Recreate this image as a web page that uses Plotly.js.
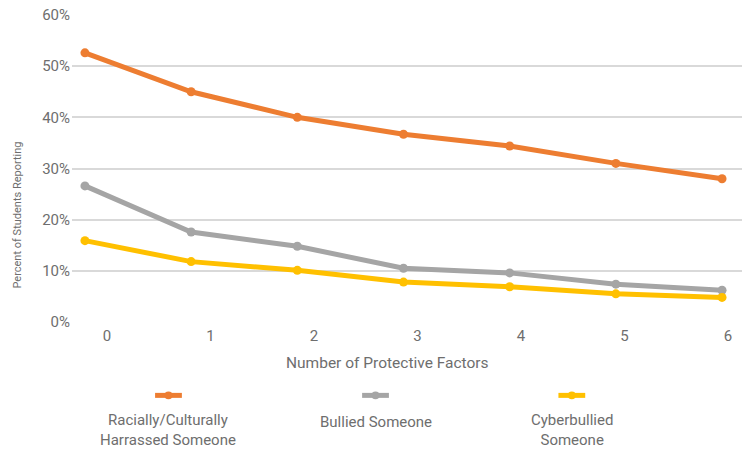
<!DOCTYPE html>
<html>
<head>
<meta charset="utf-8">
<script src="https://cdn.plot.ly/plotly-3.0.1.min.js"></script>
<style>html,body{margin:0;padding:0;background:#fff;}#chart{width:749px;height:450px;}</style>
</head>
<body>
<div id="chart"></div>
<script>
// ---- data ----
var factors = [0, 1, 2, 3, 4, 5, 6];
var tickLabels = ["0", "1", "2", "3", "4", "5", "6"];
var seriesNames = ["Racially/Culturally<br>Harrassed Someone", "Bullied Someone", "Cyberbullied<br>Someone"];
var racial = [52.6, 45.0, 40.0, 36.7, 34.4, 31.0, 28.0];
var bullied = [26.6, 17.6, 14.8, 10.5, 9.6, 7.4, 6.2];
var cyber = [15.9, 11.8, 10.1, 7.8, 6.9, 5.5, 4.8];
var yTickVals = [0, 10, 20, 30, 40, 50, 60];
var yTickText = ["0%", "10%", "20%", "30%", "40%", "50%", "60%"];

var colors = ["#ED7D31", "#A5A5A5", "#FFC000"];
var values = [racial, bullied, cyber];

var traces = values.map(function (v, i) {
  return {
    x: factors, y: v, type: "scatter", mode: "lines+markers",
    line: {color: colors[i], width: 5},
    marker: {color: colors[i], size: 9},
    name: seriesNames[i], showlegend: false, hoverinfo: "x+y"
  };
});

// tick label positions (labels drift slightly right of the points in the reference)
var tickPos = tickLabels.map(function (t, i) { return 0.207 + 0.975 * i; });

var font = "Roboto, 'DejaVu Sans', sans-serif";
var textColor = "#6e6e6e";

// legend built from shapes + annotations (symbol above text)
var legX = [0.144, 0.453, 0.746];
var legY = -0.239;
var shapes = [];
var annotations = [];
seriesNames.forEach(function (n, i) {
  shapes.push({type: "line", xref: "paper", yref: "paper",
    x0: legX[i] - 0.02, x1: legX[i] + 0.02, y0: legY, y1: legY,
    line: {color: colors[i], width: 5}});
  shapes.push({type: "circle", xref: "paper", yref: "paper",
    x0: legX[i] - 0.006, x1: legX[i] + 0.006, y0: legY - 0.013, y1: legY + 0.013,
    fillcolor: colors[i], line: {width: 0}});
  var twoLine = n.indexOf("<br>") >= 0;
  annotations.push({xref: "paper", yref: "paper", x: legX[i], y: twoLine ? -0.352 : -0.326,
    text: n, showarrow: false, xanchor: "center", yanchor: "middle",
    font: {family: font, size: 15, color: textColor}});
});
annotations.push({xref: "paper", yref: "paper", x: 0.4716, y: -0.135,
  text: "Number of Protective Factors", showarrow: false, xanchor: "center", yanchor: "middle",
  font: {family: font, size: 15.5, color: textColor}});
annotations.push({xref: "paper", yref: "paper", x: -0.0806, y: 0.35,
  text: "Percent of Students Reporting", showarrow: false, textangle: -90,
  xanchor: "center", yanchor: "middle",
  font: {family: font, size: 11, color: textColor}});

var layout = {
  width: 749, height: 450,
  margin: {l: 72, r: 7, t: 15, b: 127.5},
  paper_bgcolor: "#fff", plot_bgcolor: "#fff",
  font: {family: font, color: textColor},
  showlegend: false,
  xaxis: {
    range: [-0.122, 6.188], tickmode: "array", tickvals: tickPos, ticktext: tickLabels,
    showgrid: false, zeroline: false, showline: false, ticks: "",
    tickfont: {family: font, size: 15, color: textColor}, ticklabelstandoff: 3
  },
  yaxis: {
    range: [0, 60], tickmode: "array", tickvals: yTickVals, ticktext: yTickText,
    showgrid: true, gridcolor: "#d9d9d9", gridwidth: 2, zeroline: false, showline: false,
    ticks: "", tickfont: {family: font, size: 15, color: textColor}, ticklabelstandoff: 1
  },
  shapes: shapes,
  annotations: annotations
};

Plotly.newPlot("chart", traces, layout, {displayModeBar: false, staticPlot: true});
</script>
</body>
</html>
